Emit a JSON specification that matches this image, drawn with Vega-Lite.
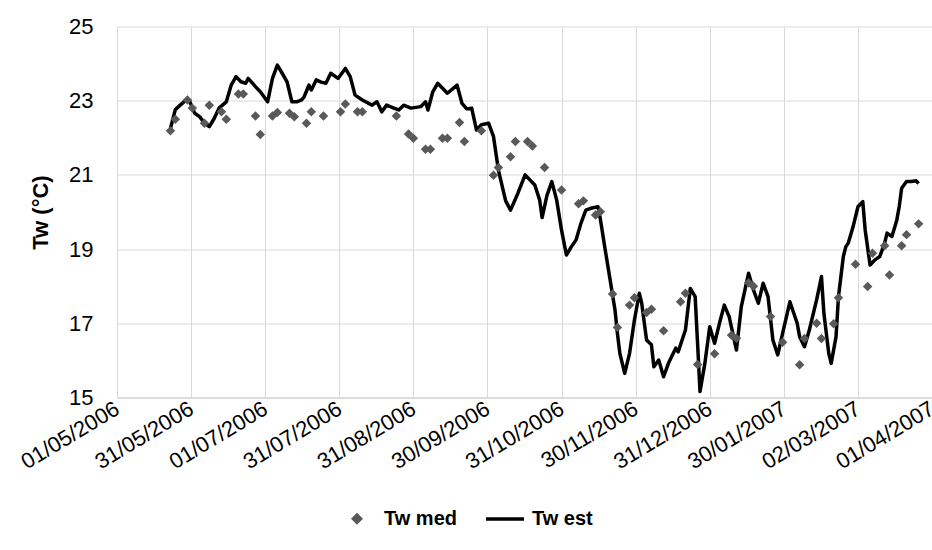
{
  "$schema": "https://vega.github.io/schema/vega-lite/v6.json",
  "autosize": "none",
  "width": 815,
  "height": 371,
  "padding": {"left": 117, "top": 26.5, "right": 0, "bottom": 152.5},
  "background": "white",
  "config": {
    "view": {"stroke": null},
    "font": "Liberation Sans",
    "axis": {"labelFont": "Liberation Sans", "titleFont": "Liberation Sans", "labelColor": "#000000", "titleColor": "#000000", "gridColor": "#d9d9d9", "gridWidth": 1, "ticks": false}
  },
  "data": {
    "values": [
      {"date": "2006-05-23", "value": 22.25, "series": "Tw est"},
      {"date": "2006-05-25", "value": 22.76, "series": "Tw est"},
      {"date": "2006-05-27", "value": 22.88, "series": "Tw est"},
      {"date": "2006-05-30", "value": 23.05, "series": "Tw est"},
      {"date": "2006-05-31", "value": 22.97, "series": "Tw est"},
      {"date": "2006-06-02", "value": 22.66, "series": "Tw est"},
      {"date": "2006-06-04", "value": 22.57, "series": "Tw est"},
      {"date": "2006-06-06", "value": 22.4, "series": "Tw est"},
      {"date": "2006-06-08", "value": 22.3, "series": "Tw est"},
      {"date": "2006-06-10", "value": 22.52, "series": "Tw est"},
      {"date": "2006-06-12", "value": 22.8, "series": "Tw est"},
      {"date": "2006-06-15", "value": 22.97, "series": "Tw est"},
      {"date": "2006-06-17", "value": 23.42, "series": "Tw est"},
      {"date": "2006-06-19", "value": 23.65, "series": "Tw est"},
      {"date": "2006-06-21", "value": 23.51, "series": "Tw est"},
      {"date": "2006-06-23", "value": 23.47, "series": "Tw est"},
      {"date": "2006-06-24", "value": 23.6, "series": "Tw est"},
      {"date": "2006-06-27", "value": 23.38, "series": "Tw est"},
      {"date": "2006-06-29", "value": 23.24, "series": "Tw est"},
      {"date": "2006-07-02", "value": 22.97, "series": "Tw est"},
      {"date": "2006-07-04", "value": 23.6, "series": "Tw est"},
      {"date": "2006-07-06", "value": 23.96, "series": "Tw est"},
      {"date": "2006-07-08", "value": 23.74, "series": "Tw est"},
      {"date": "2006-07-10", "value": 23.51, "series": "Tw est"},
      {"date": "2006-07-12", "value": 22.97, "series": "Tw est"},
      {"date": "2006-07-14", "value": 22.97, "series": "Tw est"},
      {"date": "2006-07-16", "value": 23.02, "series": "Tw est"},
      {"date": "2006-07-17", "value": 23.1, "series": "Tw est"},
      {"date": "2006-07-19", "value": 23.42, "series": "Tw est"},
      {"date": "2006-07-20", "value": 23.29, "series": "Tw est"},
      {"date": "2006-07-22", "value": 23.56, "series": "Tw est"},
      {"date": "2006-07-24", "value": 23.5, "series": "Tw est"},
      {"date": "2006-07-26", "value": 23.47, "series": "Tw est"},
      {"date": "2006-07-28", "value": 23.74, "series": "Tw est"},
      {"date": "2006-07-31", "value": 23.6, "series": "Tw est"},
      {"date": "2006-08-03", "value": 23.87, "series": "Tw est"},
      {"date": "2006-08-05", "value": 23.65, "series": "Tw est"},
      {"date": "2006-08-07", "value": 23.15, "series": "Tw est"},
      {"date": "2006-08-10", "value": 23.02, "series": "Tw est"},
      {"date": "2006-08-14", "value": 22.88, "series": "Tw est"},
      {"date": "2006-08-16", "value": 22.97, "series": "Tw est"},
      {"date": "2006-08-18", "value": 22.7, "series": "Tw est"},
      {"date": "2006-08-20", "value": 22.88, "series": "Tw est"},
      {"date": "2006-08-23", "value": 22.8, "series": "Tw est"},
      {"date": "2006-08-25", "value": 22.75, "series": "Tw est"},
      {"date": "2006-08-27", "value": 22.88, "series": "Tw est"},
      {"date": "2006-08-30", "value": 22.8, "series": "Tw est"},
      {"date": "2006-09-03", "value": 22.84, "series": "Tw est"},
      {"date": "2006-09-05", "value": 22.97, "series": "Tw est"},
      {"date": "2006-09-06", "value": 22.75, "series": "Tw est"},
      {"date": "2006-09-08", "value": 23.24, "series": "Tw est"},
      {"date": "2006-09-10", "value": 23.47, "series": "Tw est"},
      {"date": "2006-09-14", "value": 23.2, "series": "Tw est"},
      {"date": "2006-09-18", "value": 23.42, "series": "Tw est"},
      {"date": "2006-09-20", "value": 22.93, "series": "Tw est"},
      {"date": "2006-09-22", "value": 22.78, "series": "Tw est"},
      {"date": "2006-09-24", "value": 22.8, "series": "Tw est"},
      {"date": "2006-09-26", "value": 22.21, "series": "Tw est"},
      {"date": "2006-09-28", "value": 22.35, "series": "Tw est"},
      {"date": "2006-10-01", "value": 22.39, "series": "Tw est"},
      {"date": "2006-10-03", "value": 22.03, "series": "Tw est"},
      {"date": "2006-10-05", "value": 21.13, "series": "Tw est"},
      {"date": "2006-10-08", "value": 20.3, "series": "Tw est"},
      {"date": "2006-10-10", "value": 20.05, "series": "Tw est"},
      {"date": "2006-10-13", "value": 20.5, "series": "Tw est"},
      {"date": "2006-10-16", "value": 21.0, "series": "Tw est"},
      {"date": "2006-10-20", "value": 20.73, "series": "Tw est"},
      {"date": "2006-10-22", "value": 20.32, "series": "Tw est"},
      {"date": "2006-10-23", "value": 19.85, "series": "Tw est"},
      {"date": "2006-10-25", "value": 20.45, "series": "Tw est"},
      {"date": "2006-10-27", "value": 20.82, "series": "Tw est"},
      {"date": "2006-10-29", "value": 20.32, "series": "Tw est"},
      {"date": "2006-10-31", "value": 19.51, "series": "Tw est"},
      {"date": "2006-11-02", "value": 18.84, "series": "Tw est"},
      {"date": "2006-11-04", "value": 19.06, "series": "Tw est"},
      {"date": "2006-11-06", "value": 19.25, "series": "Tw est"},
      {"date": "2006-11-08", "value": 19.7, "series": "Tw est"},
      {"date": "2006-11-10", "value": 20.05, "series": "Tw est"},
      {"date": "2006-11-12", "value": 20.1, "series": "Tw est"},
      {"date": "2006-11-15", "value": 20.14, "series": "Tw est"},
      {"date": "2006-11-16", "value": 19.8, "series": "Tw est"},
      {"date": "2006-11-18", "value": 18.97, "series": "Tw est"},
      {"date": "2006-11-20", "value": 18.17, "series": "Tw est"},
      {"date": "2006-11-22", "value": 17.36, "series": "Tw est"},
      {"date": "2006-11-23", "value": 16.73, "series": "Tw est"},
      {"date": "2006-11-24", "value": 16.19, "series": "Tw est"},
      {"date": "2006-11-26", "value": 15.65, "series": "Tw est"},
      {"date": "2006-11-28", "value": 16.19, "series": "Tw est"},
      {"date": "2006-11-30", "value": 17.09, "series": "Tw est"},
      {"date": "2006-12-02", "value": 17.81, "series": "Tw est"},
      {"date": "2006-12-03", "value": 17.54, "series": "Tw est"},
      {"date": "2006-12-05", "value": 16.55, "series": "Tw est"},
      {"date": "2006-12-07", "value": 16.42, "series": "Tw est"},
      {"date": "2006-12-08", "value": 15.83, "series": "Tw est"},
      {"date": "2006-12-10", "value": 16.01, "series": "Tw est"},
      {"date": "2006-12-12", "value": 15.56, "series": "Tw est"},
      {"date": "2006-12-14", "value": 15.92, "series": "Tw est"},
      {"date": "2006-12-17", "value": 16.33, "series": "Tw est"},
      {"date": "2006-12-18", "value": 16.23, "series": "Tw est"},
      {"date": "2006-12-21", "value": 16.82, "series": "Tw est"},
      {"date": "2006-12-23", "value": 17.94, "series": "Tw est"},
      {"date": "2006-12-25", "value": 17.72, "series": "Tw est"},
      {"date": "2006-12-26", "value": 16.46, "series": "Tw est"},
      {"date": "2006-12-27", "value": 15.16, "series": "Tw est"},
      {"date": "2006-12-29", "value": 15.92, "series": "Tw est"},
      {"date": "2006-12-31", "value": 16.91, "series": "Tw est"},
      {"date": "2007-01-02", "value": 16.46, "series": "Tw est"},
      {"date": "2007-01-04", "value": 17.0, "series": "Tw est"},
      {"date": "2007-01-06", "value": 17.49, "series": "Tw est"},
      {"date": "2007-01-08", "value": 17.18, "series": "Tw est"},
      {"date": "2007-01-11", "value": 16.28, "series": "Tw est"},
      {"date": "2007-01-13", "value": 17.45, "series": "Tw est"},
      {"date": "2007-01-16", "value": 18.35, "series": "Tw est"},
      {"date": "2007-01-18", "value": 17.9, "series": "Tw est"},
      {"date": "2007-01-20", "value": 17.54, "series": "Tw est"},
      {"date": "2007-01-22", "value": 18.08, "series": "Tw est"},
      {"date": "2007-01-24", "value": 17.72, "series": "Tw est"},
      {"date": "2007-01-26", "value": 16.55, "series": "Tw est"},
      {"date": "2007-01-28", "value": 16.15, "series": "Tw est"},
      {"date": "2007-01-30", "value": 16.73, "series": "Tw est"},
      {"date": "2007-02-02", "value": 17.58, "series": "Tw est"},
      {"date": "2007-02-05", "value": 17.0, "series": "Tw est"},
      {"date": "2007-02-06", "value": 16.64, "series": "Tw est"},
      {"date": "2007-02-08", "value": 16.37, "series": "Tw est"},
      {"date": "2007-02-10", "value": 16.82, "series": "Tw est"},
      {"date": "2007-02-13", "value": 17.63, "series": "Tw est"},
      {"date": "2007-02-15", "value": 18.26, "series": "Tw est"},
      {"date": "2007-02-16", "value": 17.27, "series": "Tw est"},
      {"date": "2007-02-18", "value": 16.19, "series": "Tw est"},
      {"date": "2007-02-19", "value": 15.92, "series": "Tw est"},
      {"date": "2007-02-21", "value": 16.64, "series": "Tw est"},
      {"date": "2007-02-22", "value": 17.72, "series": "Tw est"},
      {"date": "2007-02-24", "value": 18.8, "series": "Tw est"},
      {"date": "2007-02-25", "value": 19.06, "series": "Tw est"},
      {"date": "2007-02-26", "value": 19.16, "series": "Tw est"},
      {"date": "2007-02-28", "value": 19.6, "series": "Tw est"},
      {"date": "2007-03-02", "value": 20.14, "series": "Tw est"},
      {"date": "2007-03-04", "value": 20.28, "series": "Tw est"},
      {"date": "2007-03-05", "value": 19.51, "series": "Tw est"},
      {"date": "2007-03-07", "value": 18.57, "series": "Tw est"},
      {"date": "2007-03-09", "value": 18.71, "series": "Tw est"},
      {"date": "2007-03-11", "value": 18.8, "series": "Tw est"},
      {"date": "2007-03-13", "value": 19.16, "series": "Tw est"},
      {"date": "2007-03-14", "value": 19.43, "series": "Tw est"},
      {"date": "2007-03-16", "value": 19.34, "series": "Tw est"},
      {"date": "2007-03-18", "value": 19.78, "series": "Tw est"},
      {"date": "2007-03-19", "value": 20.14, "series": "Tw est"},
      {"date": "2007-03-20", "value": 20.64, "series": "Tw est"},
      {"date": "2007-03-22", "value": 20.82, "series": "Tw est"},
      {"date": "2007-03-24", "value": 20.82, "series": "Tw est"},
      {"date": "2007-03-26", "value": 20.84, "series": "Tw est"},
      {"date": "2007-03-27", "value": 20.77, "series": "Tw est"},
      {"date": "2006-05-23", "value": 22.19, "series": "Tw med"},
      {"date": "2006-05-25", "value": 22.5, "series": "Tw med"},
      {"date": "2006-05-30", "value": 23.02, "series": "Tw med"},
      {"date": "2006-06-01", "value": 22.8, "series": "Tw med"},
      {"date": "2006-06-06", "value": 22.39, "series": "Tw med"},
      {"date": "2006-06-08", "value": 22.88, "series": "Tw med"},
      {"date": "2006-06-13", "value": 22.7, "series": "Tw med"},
      {"date": "2006-06-15", "value": 22.5, "series": "Tw med"},
      {"date": "2006-06-20", "value": 23.18, "series": "Tw med"},
      {"date": "2006-06-22", "value": 23.18, "series": "Tw med"},
      {"date": "2006-06-27", "value": 22.59, "series": "Tw med"},
      {"date": "2006-06-29", "value": 22.09, "series": "Tw med"},
      {"date": "2006-07-04", "value": 22.59, "series": "Tw med"},
      {"date": "2006-07-06", "value": 22.68, "series": "Tw med"},
      {"date": "2006-07-11", "value": 22.66, "series": "Tw med"},
      {"date": "2006-07-13", "value": 22.57, "series": "Tw med"},
      {"date": "2006-07-18", "value": 22.39, "series": "Tw med"},
      {"date": "2006-07-20", "value": 22.7, "series": "Tw med"},
      {"date": "2006-07-25", "value": 22.59, "series": "Tw med"},
      {"date": "2006-08-01", "value": 22.7, "series": "Tw med"},
      {"date": "2006-08-03", "value": 22.91, "series": "Tw med"},
      {"date": "2006-08-08", "value": 22.7, "series": "Tw med"},
      {"date": "2006-08-10", "value": 22.7, "series": "Tw med"},
      {"date": "2006-08-24", "value": 22.59, "series": "Tw med"},
      {"date": "2006-08-29", "value": 22.1, "series": "Tw med"},
      {"date": "2006-08-31", "value": 21.99, "series": "Tw med"},
      {"date": "2006-09-05", "value": 21.69, "series": "Tw med"},
      {"date": "2006-09-07", "value": 21.69, "series": "Tw med"},
      {"date": "2006-09-12", "value": 21.99, "series": "Tw med"},
      {"date": "2006-09-14", "value": 21.99, "series": "Tw med"},
      {"date": "2006-09-19", "value": 22.41, "series": "Tw med"},
      {"date": "2006-09-21", "value": 21.9, "series": "Tw med"},
      {"date": "2006-09-28", "value": 22.19, "series": "Tw med"},
      {"date": "2006-10-03", "value": 20.99, "series": "Tw med"},
      {"date": "2006-10-05", "value": 21.2, "series": "Tw med"},
      {"date": "2006-10-10", "value": 21.49, "series": "Tw med"},
      {"date": "2006-10-12", "value": 21.9, "series": "Tw med"},
      {"date": "2006-10-17", "value": 21.9, "series": "Tw med"},
      {"date": "2006-10-19", "value": 21.78, "series": "Tw med"},
      {"date": "2006-10-24", "value": 21.2, "series": "Tw med"},
      {"date": "2006-10-31", "value": 20.59, "series": "Tw med"},
      {"date": "2006-11-07", "value": 20.22, "series": "Tw med"},
      {"date": "2006-11-09", "value": 20.3, "series": "Tw med"},
      {"date": "2006-11-14", "value": 19.92, "series": "Tw med"},
      {"date": "2006-11-16", "value": 20.01, "series": "Tw med"},
      {"date": "2006-11-21", "value": 17.79, "series": "Tw med"},
      {"date": "2006-11-23", "value": 16.89, "series": "Tw med"},
      {"date": "2006-11-28", "value": 17.49, "series": "Tw med"},
      {"date": "2006-11-30", "value": 17.69, "series": "Tw med"},
      {"date": "2006-12-05", "value": 17.29, "series": "Tw med"},
      {"date": "2006-12-07", "value": 17.38, "series": "Tw med"},
      {"date": "2006-12-12", "value": 16.8, "series": "Tw med"},
      {"date": "2006-12-19", "value": 17.58, "series": "Tw med"},
      {"date": "2006-12-21", "value": 17.81, "series": "Tw med"},
      {"date": "2006-12-26", "value": 15.89, "series": "Tw med"},
      {"date": "2007-01-02", "value": 16.18, "series": "Tw med"},
      {"date": "2007-01-09", "value": 16.68, "series": "Tw med"},
      {"date": "2007-01-11", "value": 16.6, "series": "Tw med"},
      {"date": "2007-01-16", "value": 18.09, "series": "Tw med"},
      {"date": "2007-01-18", "value": 18.0, "series": "Tw med"},
      {"date": "2007-01-25", "value": 17.18, "series": "Tw med"},
      {"date": "2007-01-30", "value": 16.49, "series": "Tw med"},
      {"date": "2007-02-06", "value": 15.88, "series": "Tw med"},
      {"date": "2007-02-08", "value": 16.59, "series": "Tw med"},
      {"date": "2007-02-13", "value": 17.0, "series": "Tw med"},
      {"date": "2007-02-15", "value": 16.59, "series": "Tw med"},
      {"date": "2007-02-20", "value": 16.99, "series": "Tw med"},
      {"date": "2007-02-22", "value": 17.69, "series": "Tw med"},
      {"date": "2007-03-01", "value": 18.59, "series": "Tw med"},
      {"date": "2007-03-06", "value": 17.99, "series": "Tw med"},
      {"date": "2007-03-08", "value": 18.89, "series": "Tw med"},
      {"date": "2007-03-13", "value": 19.09, "series": "Tw med"},
      {"date": "2007-03-15", "value": 18.3, "series": "Tw med"},
      {"date": "2007-03-20", "value": 19.09, "series": "Tw med"},
      {"date": "2007-03-22", "value": 19.39, "series": "Tw med"},
      {"date": "2007-03-27", "value": 19.68, "series": "Tw med"}
    ]
  },
  "encoding": {
    "x": {
      "field": "date",
      "type": "temporal",
      "scale": {
        "type": "utc",
        "domain": [
          {"year": 2006, "month": 5, "date": 1, "utc": true},
          {"year": 2007, "month": 4, "date": 1, "hours": 12, "utc": true}
        ]
      },
      "axis": {
        "title": null,
        "labelExpr": "utcFormat(datum.value, '%d/%m/%Y')",
        "values": [
          {"year": 2006, "month": 5, "date": 1, "utc": true},
          {"year": 2006, "month": 5, "date": 31, "hours": 12, "utc": true},
          {"year": 2006, "month": 7, "date": 1, "utc": true},
          {"year": 2006, "month": 7, "date": 31, "hours": 12, "utc": true},
          {"year": 2006, "month": 8, "date": 31, "utc": true},
          {"year": 2006, "month": 9, "date": 30, "hours": 12, "utc": true},
          {"year": 2006, "month": 10, "date": 31, "utc": true},
          {"year": 2006, "month": 11, "date": 30, "hours": 12, "utc": true},
          {"year": 2006, "month": 12, "date": 31, "utc": true},
          {"year": 2007, "month": 1, "date": 30, "hours": 12, "utc": true},
          {"year": 2007, "month": 3, "date": 2, "utc": true},
          {"year": 2007, "month": 4, "date": 1, "hours": 12, "utc": true}
        ],
        "labelAngle": -31,
        "labelAlign": "right",
        "labelBaseline": "middle",
        "labelFontSize": 22,
        "labelPadding": 9,
        "labelOverlap": false,
        "labelFlush": false,
        "labelBound": false,
        "grid": true,
        "domain": true,
        "domainColor": "#d9d9d9",
        "domainWidth": 1.5
      }
    },
    "y": {
      "field": "value",
      "type": "quantitative",
      "scale": {"domain": [15, 25], "nice": false, "zero": false},
      "axis": {
        "title": "Tw (°C)",
        "titleFontSize": 22,
        "titleFontWeight": "bold",
        "titlePadding": 16,
        "values": [15, 17, 19, 21, 23, 25],
        "labelFontSize": 22,
        "labelPadding": 24,
        "labelFlush": false,
        "grid": true,
        "domain": false
      }
    },
    "color": {
      "field": "series",
      "type": "nominal",
      "scale": {"domain": ["Tw med", "Tw est"], "range": ["#595959", "#000000"]},
      "legend": {
        "orient": "none",
        "direction": "horizontal",
        "legendX": 219,
        "legendY": 471,
        "title": null,
        "labelFont": "Liberation Sans",
        "labelFontSize": 20,
        "labelFontWeight": "bold",
        "labelColor": "#000000",
        "symbolSize": 1444,
        "symbolStrokeWidth": 3.5,
        "columnPadding": 22,
        "labelOffset": 6,
        "encode": {
          "symbols": {
            "update": {
              "shape": {"signal": "datum.value === 'Tw med' ? 'diamond' : 'stroke'"},
              "size": {"signal": "datum.value === 'Tw med' ? 50 : 1444"},
              "fill": {"signal": "datum.value === 'Tw med' ? '#595959' : 'transparent'"},
              "stroke": {"signal": "datum.value === 'Tw med' ? 'transparent' : '#000000'"},
              "strokeWidth": {"value": 3.5},
              "opacity": {"value": 1}
            }
          }
        }
      }
    }
  },
  "layer": [
    {
      "transform": [{"filter": "datum.series === 'Tw est'"}],
      "mark": {"type": "line", "strokeWidth": 3.5, "strokeJoin": "round"}
    },
    {
      "transform": [{"filter": "datum.series === 'Tw med'"}],
      "mark": {"type": "point", "shape": "diamond", "filled": true, "size": 90, "opacity": 1}
    }
  ]
}
